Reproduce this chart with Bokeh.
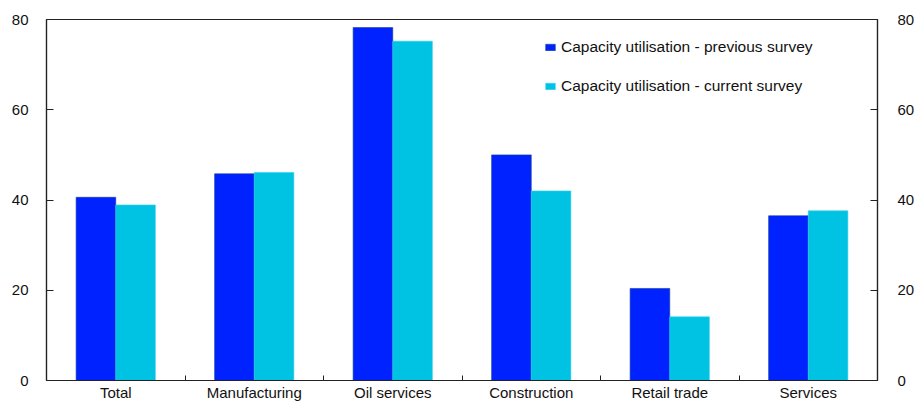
import numpy as np
from bokeh.plotting import figure
from bokeh.models import (Range1d, LinearAxis, FixedTicker, Legend, LegendItem,
                          ColumnDataSource)
from bokeh.embed import file_html
from bokeh.resources import INLINE

categories = ["Total", "Manufacturing", "Oil services", "Construction", "Retail trade", "Services"]
previous_survey = [40.6, 45.8, 78.2, 50.0, 20.4, 36.5]
current_survey = [38.9, 46.1, 75.2, 42.0, 14.1, 37.6]
y_ticks = [0, 20, 40, 60, 80]

FONT = "Liberation Sans"
C_PREV = "#0022ff"
C_CUR = "#00c2e2"

n = len(categories)
centers = np.arange(n) + 0.5
bw = 0.286

src = ColumnDataSource(dict(
    x_prev=centers - bw / 2, x_cur=centers + bw / 2,
    prev=previous_survey, cur=current_survey))

p = figure(width=917, height=403, output_backend="svg", toolbar_location=None,
           x_range=Range1d(0, n), y_range=Range1d(0, 80),
           min_border_left=46, min_border_right=38, min_border_top=19,
           min_border_bottom=20)
p.background_fill_color = "white"
p.border_fill_color = "white"
p.outline_line_color = "#222222"
p.outline_line_width = 1.2
p.xgrid.visible = False
p.ygrid.visible = False

r_prev = p.vbar(x="x_prev", top="prev", width=bw, source=src,
                fill_color=C_PREV, line_color="#0a3a9a", line_width=0.6)
r_cur = p.vbar(x="x_cur", top="cur", width=bw, source=src,
               fill_color=C_CUR, line_color="#30d0ee", line_width=0.6)

# bottom axis
xa = p.xaxis[0]
xa.ticker = FixedTicker(ticks=list(centers), minor_ticks=list(range(1, n)))
xa.major_label_overrides = {float(c): lab for c, lab in zip(centers, categories)}
xa.major_tick_in = 0
xa.major_tick_out = 0
xa.minor_tick_in = 5
xa.minor_tick_out = 0
xa.minor_tick_line_color = "#222222"
xa.axis_line_color = "#222222"
xa.axis_line_width = 1.2
xa.major_label_standoff = 3
xa.major_label_text_font = FONT
xa.major_label_text_font_size = "15px"
xa.major_label_text_color = "#111111"

# left axis
ya = p.yaxis[0]
ya.ticker = FixedTicker(ticks=y_ticks)
ya.major_tick_in = 7
ya.major_tick_out = 0
ya.minor_tick_line_color = None
ya.axis_line_color = "#222222"
ya.axis_line_width = 1.2
ya.major_tick_line_color = "#222222"
ya.major_label_standoff = 18
ya.major_label_text_font = FONT
ya.major_label_text_font_size = "15px"
ya.major_label_text_color = "#111111"

# right axis
ra = LinearAxis(ticker=FixedTicker(ticks=y_ticks))
ra.major_tick_in = 7
ra.major_tick_out = 0
ra.minor_tick_line_color = None
ra.axis_line_color = "#222222"
ra.axis_line_width = 1.2
ra.major_tick_line_color = "#222222"
ra.major_label_standoff = 20
ra.major_label_text_font = FONT
ra.major_label_text_font_size = "15px"
ra.major_label_text_color = "#111111"
p.add_layout(ra, "right")

legend = Legend(items=[
    LegendItem(label="Capacity utilisation - previous survey", renderers=[r_prev]),
    LegendItem(label="Capacity utilisation - current survey", renderers=[r_cur]),
], location=(498, 285))
legend.glyph_width = 12
legend.glyph_height = 8
legend.label_text_font = FONT
legend.label_text_font_size = "15.5px"
legend.label_text_color = "#111111"
legend.label_standoff = 5
legend.spacing = 21
legend.padding = 0
legend.margin = 0
legend.border_line_color = None
legend.background_fill_alpha = 0
p.add_layout(legend, "center")

open("out.html", "w").write(file_html(p, INLINE))
